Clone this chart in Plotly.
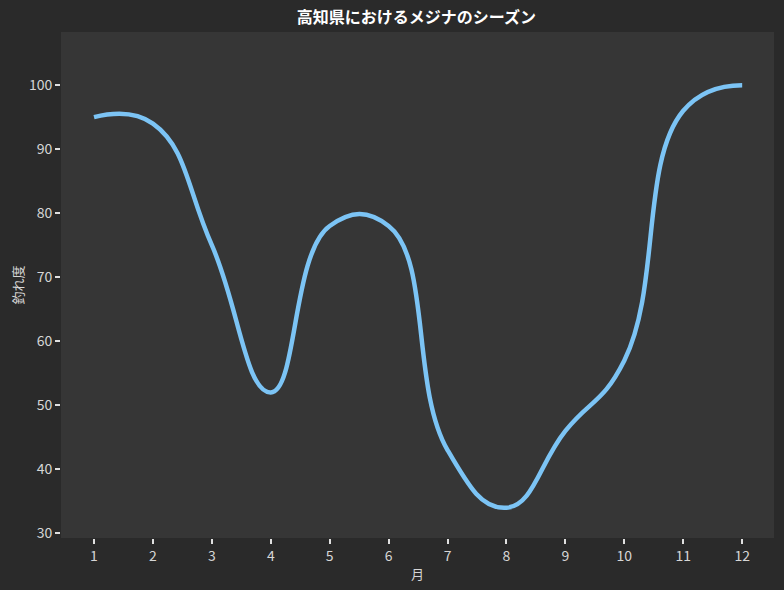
import plotly.graph_objects as go

# データ（月ごとの釣れ度）
months = [1, 2, 3, 4, 5, 6, 7, 8, 9, 10, 11, 12]
catch_score = [95, 94, 75, 52, 78, 78, 43, 34, 46, 57, 96, 100]
month_ticks = [str(m) for m in months]
score_ticks = [30, 40, 50, 60, 70, 80, 90, 100]

font_family = "Noto Sans CJK JP"

fig = go.Figure()
fig.add_trace(go.Scatter(
    x=months, y=catch_score,
    mode="lines",
    line=dict(color="#7cc4f5", width=4.5, shape="spline", smoothing=1.3),
    showlegend=False,
))

fig.update_layout(
    width=784, height=590,
    paper_bgcolor="#2a2a2a",
    plot_bgcolor="#363636",
    margin=dict(l=61, r=10, t=32, b=52),
    font=dict(family=font_family, color="#d6d6d6", size=14),
    title=dict(
        text="<b>高知県におけるメジナのシーズン</b>",
        x=0.531, xanchor="center", y=0.971, yanchor="middle",
        font=dict(family=font_family, size=16, color="#ffffff"),
    ),
    xaxis=dict(
        range=[0.44, 12.54],
        tickmode="array", tickvals=months, ticktext=month_ticks,
        ticks="outside", ticklen=5, tickwidth=1.5, tickcolor="#e0e0e0",
        tickfont=dict(size=14, color="#d6d6d6"),
        showgrid=False, zeroline=False, showline=False, automargin=False,
        title=dict(text="月", font=dict(size=13, color="#d6d6d6"), standoff=6),
    ),
    yaxis=dict(
        range=[29.27, 108.3],
        tickmode="array", tickvals=score_ticks,
        ticks="outside", ticklen=5, tickwidth=1.5, tickcolor="#e0e0e0",
        tickfont=dict(size=14, color="#d6d6d6"),
        showgrid=False, zeroline=False, showline=False, automargin=False,
        title=dict(text="釣れ度", font=dict(size=13, color="#d6d6d6"), standoff=2),
    ),
)

fig.write_html(
    "out.html",
    config={"displayModeBar": False},
    post_script="document.body.style.margin='0';",
)
